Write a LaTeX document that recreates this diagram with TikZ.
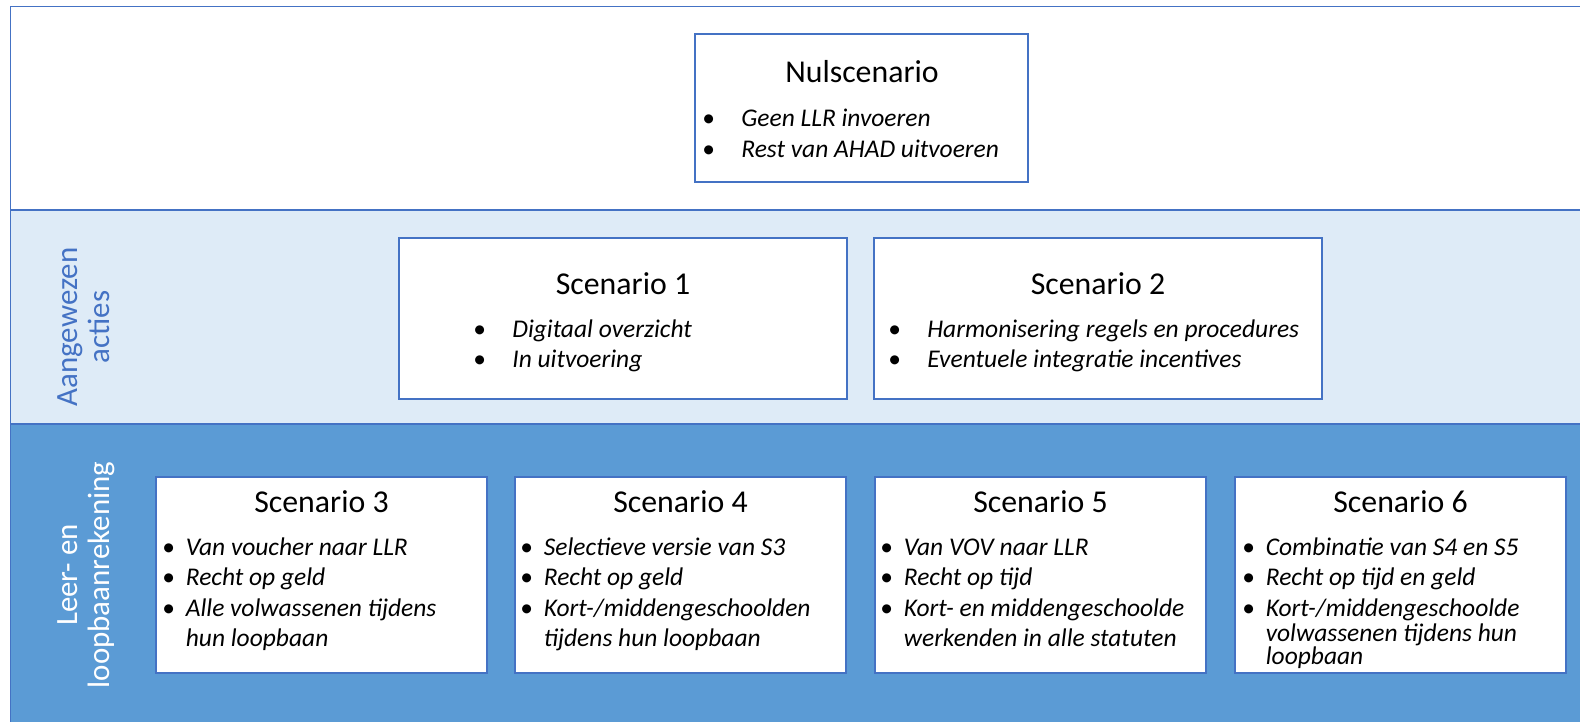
\documentclass[tikz,border=0pt]{standalone}
\usepackage{fontspec}
\setmainfont{Carlito}
\usetikzlibrary{positioning}

\definecolor{frameblue}{HTML}{4472C4}
\definecolor{lightband}{HTML}{DEEBF7}
\definecolor{darkband}{HTML}{5B9BD5}

% bullet lines inside the scenario boxes
\newcommand{\scenitem}[1]{\makebox[0.47cm][l]{\textbullet}\textit{#1}}
\newcommand{\scenitemwide}[1]{\makebox[0.78cm][l]{\textbullet}\textit{#1}}
\newcommand{\scencont}[1]{\hspace*{0.47cm}\textit{#1}}
% stack of lines, baseline on the first line
\newcommand{\scenlines}[1]{\vtop{\halign{##\hfil\cr#1\crcr}}}

\begin{document}
\begin{tikzpicture}
    % Define node styles
    \tikzstyle{band}=[draw=frameblue, line width=0.8pt]
    \tikzstyle{scenbox}=[rectangle, fill=white, draw=frameblue, line width=0.6pt, inner sep=0pt]
    \tikzstyle{scentitle}=[anchor=base, inner sep=0pt, font=\fontsize{18.1}{20}\selectfont]
    \tikzstyle{scenlist}=[anchor=base west, inner sep=0pt, font=\fontsize{14.5}{17.4}\selectfont]
    \tikzstyle{bandlabel}=[rotate=90, align=center, inner sep=0pt, font=\fontsize{17.6}{18.2}\selectfont]

    \useasboundingbox (0,0) rectangle (31.6,14.42);

    % Bands: null scenario, designated actions, learning account
    \filldraw[band, fill=white] (0.21,10.22) rectangle (31.9,14.29);
    \filldraw[band, fill=lightband] (0.21,5.94) rectangle (31.9,10.22);
    \filldraw[band, fill=darkband] (0.21,-0.3) rectangle (31.9,5.94);

    % Band labels on the left
    \node[bandlabel, text=frameblue] (lblacties) at (1.68, 7.88) {Aangewezen\\acties};
    \node[bandlabel, text=white] (lblllr) at (1.72, 2.92) {Leer- en\\loopbaanrekening};

    % Top level: null scenario
    \node[scenbox, minimum width=6.66cm, minimum height=2.96cm] (nul) at (17.23, 12.26) {};
    \node[scentitle] (nultitle) at (17.24, 12.76) {Nulscenario};
    \node[scenlist] (nullist) at (14.04, 11.88) {\scenlines{
        \scenitemwide{Geen LLR invoeren}\cr
        \scenitemwide{Rest van AHAD uitvoeren}}};

    % Middle level: scenario 1 and 2
    \node[scenbox, minimum width=8.96cm, minimum height=3.22cm] (sc1) at (12.46, 8.05) {};
    \node[scentitle] (sc1title) at (12.46, 8.54) {Scenario 1};
    \node[scenlist] (sc1list) at (9.46, 7.68) {\scenlines{
        \scenitemwide{Digitaal overzicht}\cr
        \scenitemwide{In uitvoering}}};

    \node[scenbox, minimum width=8.96cm, minimum height=3.22cm] (sc2) at (21.96, 8.05) {};
    \node[scentitle] (sc2title) at (21.96, 8.54) {Scenario 2};
    \node[scenlist] (sc2list) at (17.76, 7.68) {\scenlines{
        \scenitemwide{Harmonisering regels en procedures}\cr
        \scenitemwide{Eventuele integratie incentives}}};

    % Bottom level: scenario 3 to 6
    \node[scenbox, minimum width=6.62cm, minimum height=3.92cm] (sc3) at (6.43, 2.92) {};
    \node[scentitle] (sc3title) at (6.43, 4.18) {Scenario 3};
    \node[scenlist] (sc3list) at (3.24, 3.32) {\scenlines{
        \scenitem{Van voucher naar LLR}\cr
        \scenitem{Recht op geld}\cr
        \scenitem{Alle volwassenen tijdens}\cr
        \scencont{hun loopbaan}}};

    \node[scenbox, minimum width=6.62cm, minimum height=3.92cm] (sc4) at (13.61, 2.92) {};
    \node[scentitle] (sc4title) at (13.61, 4.18) {Scenario 4};
    \node[scenlist] (sc4list) at (10.40, 3.32) {\scenlines{
        \scenitem{Selectieve versie van S3}\cr
        \scenitem{Recht op geld}\cr
        \scenitem{Kort-/middengeschoolden}\cr
        \scencont{tijdens hun loopbaan}}};

    \node[scenbox, minimum width=6.62cm, minimum height=3.92cm] (sc5) at (20.81, 2.92) {};
    \node[scentitle] (sc5title) at (20.81, 4.18) {Scenario 5};
    \node[scenlist] (sc5list) at (17.60, 3.32) {\scenlines{
        \scenitem{Van VOV naar LLR}\cr
        \scenitem{Recht op tijd}\cr
        \scenitem{Kort- en middengeschoolde}\cr
        \scencont{werkenden in alle statuten}}};

    \node[scenbox, minimum width=6.62cm, minimum height=3.92cm] (sc6) at (28.01, 2.92) {};
    \node[scentitle] (sc6title) at (28.01, 4.18) {Scenario 6};
    \node[scenlist] (sc6list) at (24.84, 3.32) {\scenlines{
        \scenitem{Combinatie van S4 en S5}\cr
        \scenitem{Recht op tijd en geld}\cr
        \scenitem{Kort-/middengeschoolde}\cr\noalign{\vskip-3.2pt}
        \scencont{volwassenen tijdens hun}\cr\noalign{\vskip-4pt}
        \scencont{loopbaan}}};

\end{tikzpicture}
\end{document}
